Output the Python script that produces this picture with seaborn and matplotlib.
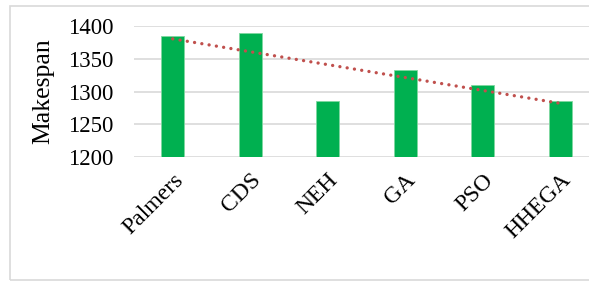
import numpy as np
import pandas as pd
import matplotlib.pyplot as plt
import matplotlib.patches as patches
import seaborn as sns

# data
algorithms = ["Palmers", "CDS", "NEH", "GA", "PSO", "HHEGA"]
makespan = [1385, 1389, 1285, 1333, 1310, 1285]
y_ticks = [1200, 1250, 1300, 1350, 1400]

df = pd.DataFrame({"algorithm": algorithms, "makespan": makespan})

sns.set_theme(style="white")
plt.rcParams['font.family'] = ['Liberation Serif', 'DejaVu Serif']

fig = plt.figure(figsize=(5.89, 2.82), dpi=100)
ax = fig.add_axes([134 / 589, 125 / 282, 465 / 589, 131 / 282])

# outer chart border (Excel-style)
fig.patches.append(patches.Rectangle((10 / 589, 2 / 282), 0.99, 274 / 282,
                                     transform=fig.transFigure, fill=False,
                                     edgecolor="#D9D9D9", linewidth=1.2))

sns.barplot(data=df, x="algorithm", y="makespan", color="#00B050",
            width=0.3, edgecolor="#7FD8A0", linewidth=0.6, ax=ax,
            saturation=1)

# linear trendline
xs = np.arange(len(algorithms))
slope, intercept = np.polyfit(xs, makespan, 1)
ax.plot(xs, slope * xs + intercept, linestyle=(0, (0.01, 2.2)),
        color="#C0504D", linewidth=2.4, dash_capstyle="round", zorder=3)

ax.set_ylim(1200, 1400)
ax.set_xlim(-0.5, 5.5)
ax.set_yticks(y_ticks)
ax.yaxis.grid(True, color="#D9D9D9", linewidth=1.2)
ax.set_axisbelow(True)
for s in ax.spines.values():
    s.set_visible(False)

ax.tick_params(axis="y", length=0, pad=15, labelsize=16.5, labelcolor="black")
ax.tick_params(axis="x", length=0, pad=9, labelsize=17, labelcolor="black")
plt.setp(ax.get_xticklabels(), rotation=45, ha="right", rotation_mode="anchor")

ax.set_xlabel("")
ax.set_ylabel("Makespan", fontsize=18.5, color="black")
ax.yaxis.set_label_coords(-0.172, 0.5)

fig.savefig("out.png", dpi=100)
